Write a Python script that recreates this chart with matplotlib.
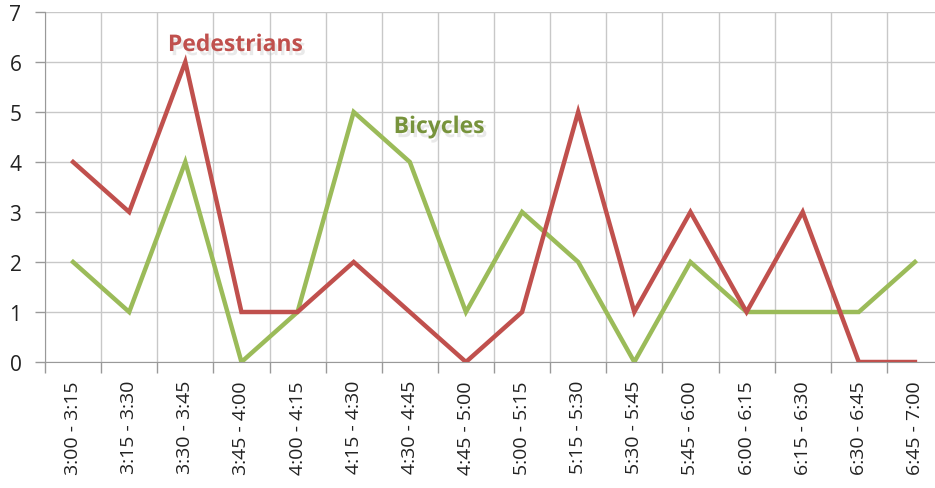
import matplotlib.pyplot as plt
import matplotlib.patheffects as pe
import numpy as np

slots = ["3:00 - 3:15", "3:15 - 3:30", "3:30 - 3:45", "3:45 - 4:00",
         "4:00 - 4:15", "4:15 - 4:30", "4:30 - 4:45", "4:45 - 5:00",
         "5:00 - 5:15", "5:15 - 5:30", "5:30 - 5:45", "5:45 - 6:00",
         "6:00 - 6:15", "6:15 - 6:30", "6:30 - 6:45", "6:45 - 7:00"]
pedestrians = [4, 3, 6, 1, 1, 2, 1, 0, 1, 5, 1, 3, 1, 3, 0, 0]
bicycles = [2, 1, 4, 0, 1, 5, 4, 1, 3, 2, 0, 2, 1, 1, 1, 2]

RED = "#c0504d"
GREEN = "#9bbb59"
GRID = "#c8c8c8"


def main():
    plt.rcParams["font.family"] = ["Open Sans", "DejaVu Sans"]
    fig = plt.figure(figsize=(9.35, 4.89), dpi=100)
    # the plot area runs slightly past the right edge of the figure
    ax = fig.add_axes([45 / 935, 126 / 489, 898 / 935, 350 / 489])

    x = np.arange(len(slots))
    ax.plot(x, bicycles, color=GREEN, lw=3.2, solid_joinstyle="miter", zorder=3)
    ax.plot(x, pedestrians, color=RED, lw=3.2, solid_joinstyle="miter", zorder=4)

    ax.set_xlim(-0.5, len(slots) - 0.5)
    ax.set_ylim(0, 7)
    ax.set_yticks(range(8))
    ax.set_xticks(x)
    ax.set_xticklabels(slots, rotation=90, fontsize=14, color="#222222")
    ax.tick_params(axis="y", labelsize=15, colors="#222222", length=7,
                   width=1, color="#999999", pad=10)
    ax.tick_params(axis="x", length=0, pad=13)

    # gridlines sit between the categories
    bounds = np.arange(-0.5, len(slots), 1)
    ax.set_xticks(bounds, minor=True)
    ax.tick_params(axis="x", which="minor", length=8, color="#999999", width=1)
    ax.grid(True, which="minor", axis="x", color=GRID, lw=1)
    ax.grid(True, which="major", axis="y", color=GRID, lw=1)
    ax.set_axisbelow(True)

    for side in ["top", "right"]:
        ax.spines[side].set_visible(False)
    for side in ["left", "bottom"]:
        ax.spines[side].set_color("#999999")

    shadow = [pe.SimplePatchShadow(offset=(2, -3), shadow_rgbFace="#aaaaaa", alpha=0.25),
              pe.Normal()]
    ax.text(2.89, 6.34, "Pedestrians", color=RED, fontsize=16.5, fontweight="bold",
            ha="center", va="center", path_effects=shadow)
    ax.text(6.52, 4.7, "Bicycles", color="#77933c", fontsize=16.5, fontweight="bold",
            ha="center", va="center", path_effects=shadow)

    fig.savefig("out.png", dpi=100)


if __name__ == "__main__":
    main()
